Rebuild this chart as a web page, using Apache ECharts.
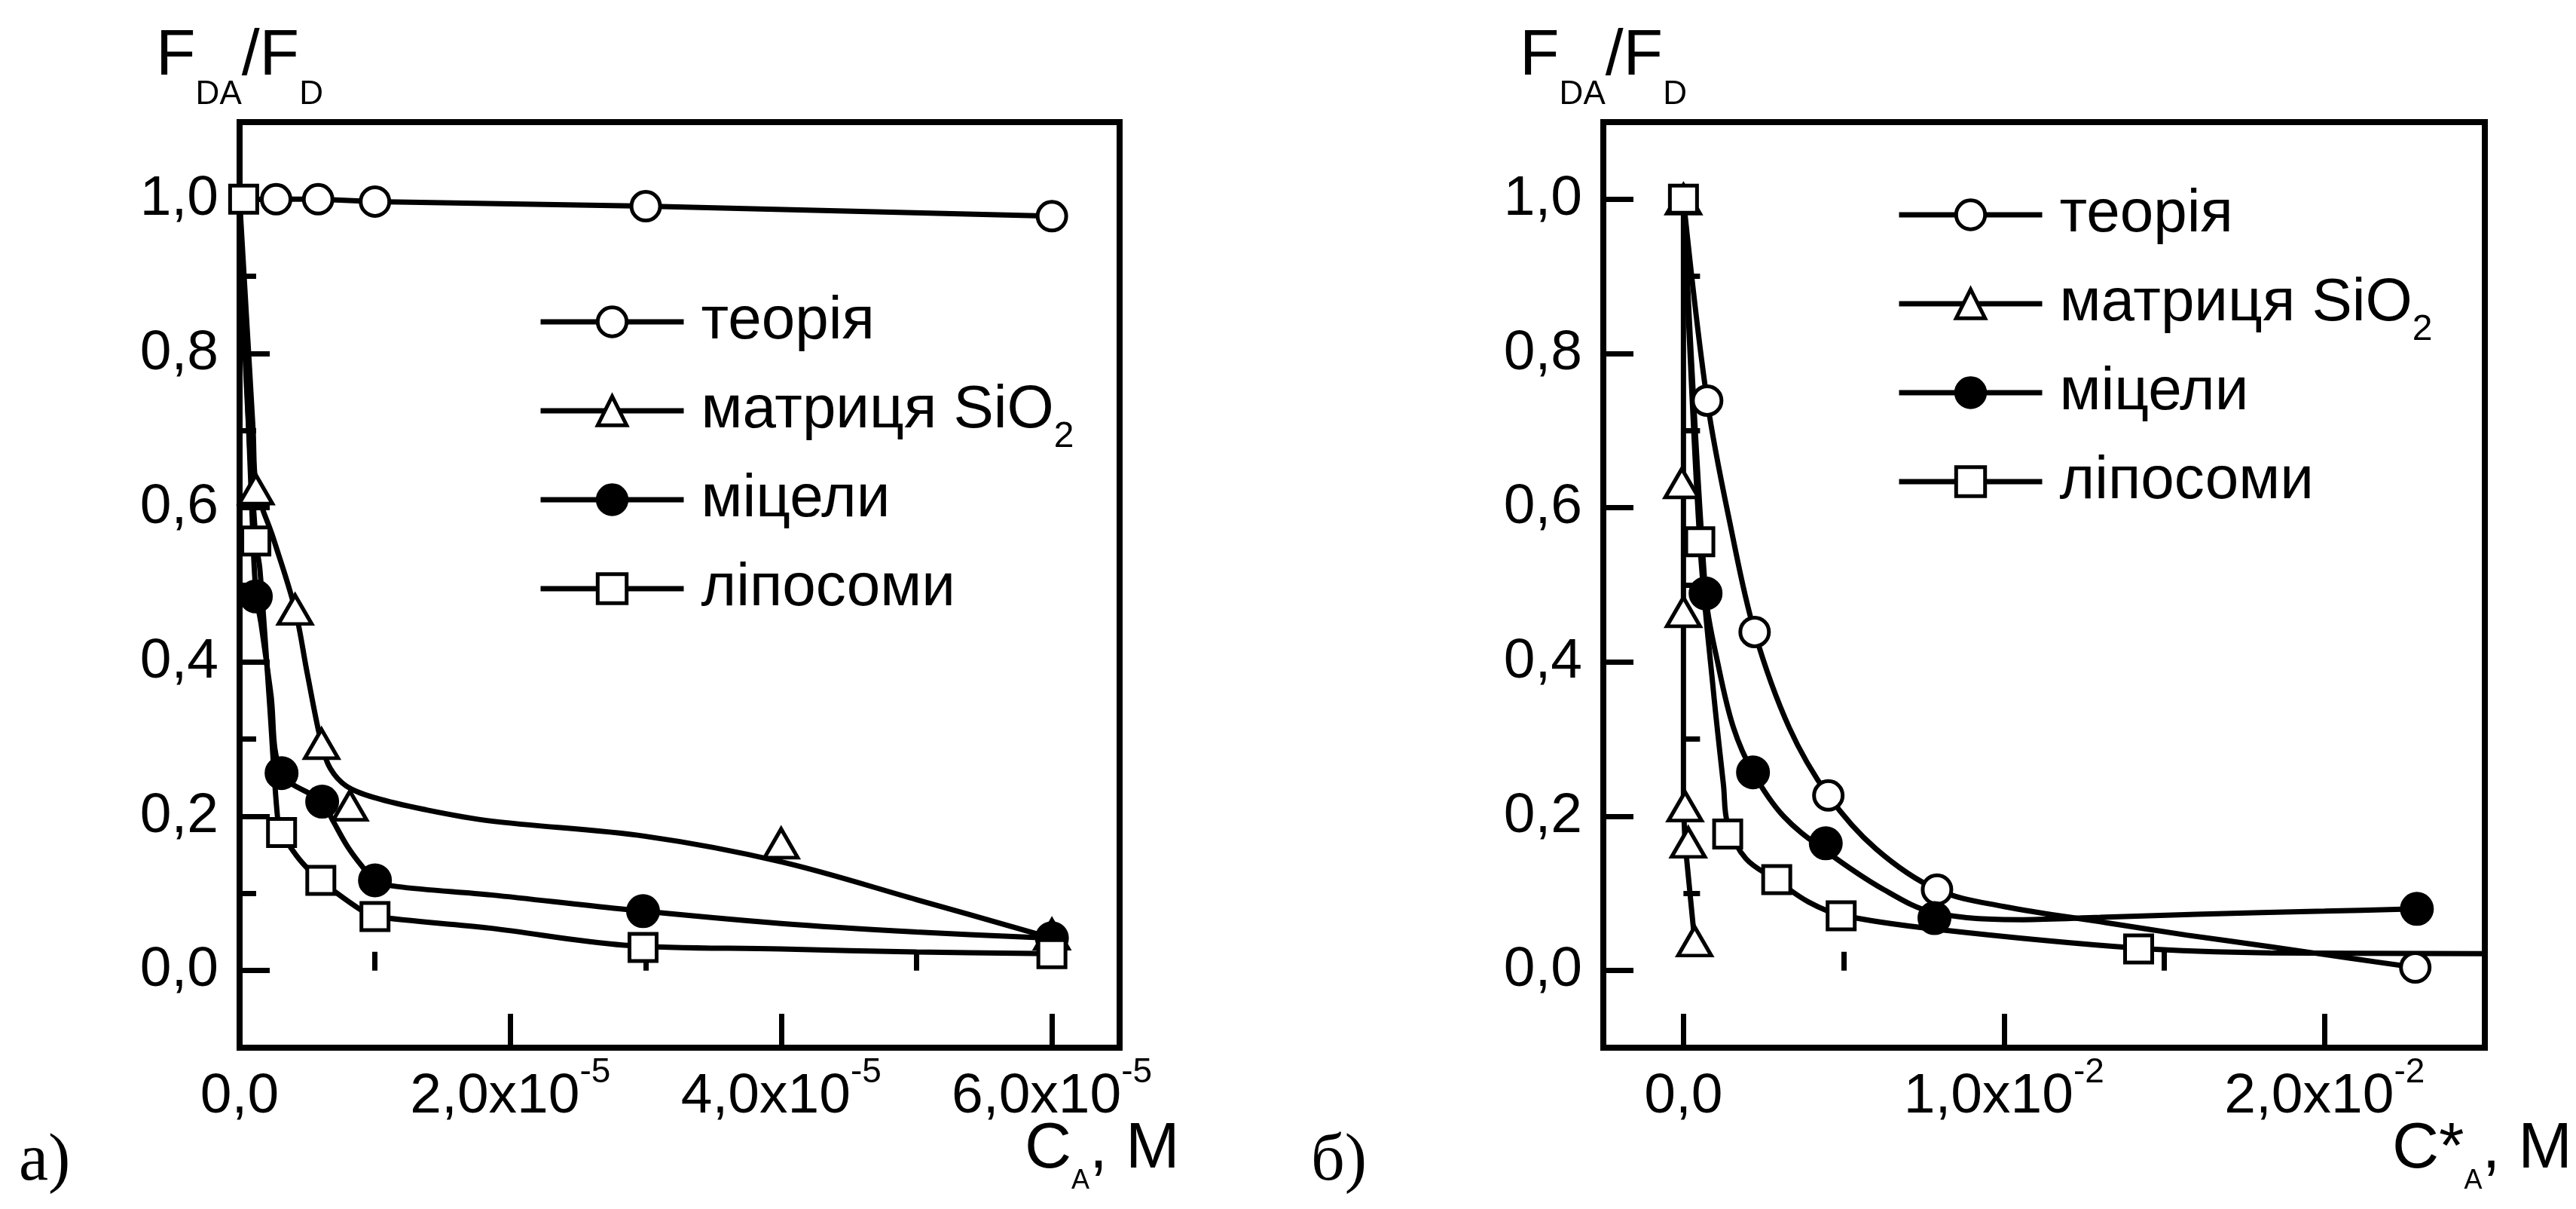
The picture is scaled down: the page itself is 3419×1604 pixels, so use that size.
<!DOCTYPE html>
<html><head><meta charset="utf-8">
<script src="https://cdn.jsdelivr.net/npm/echarts@6/dist/echarts.min.js"></script>
<style>html,body{margin:0;padding:0;background:#fff;} #c{width:3419px;height:1604px;}</style>
</head><body><div id="c"></div>
<script>
// ---------- DATA ----------
const seriesNames = ['теорія', 'матриця SiO2', 'міцели', 'ліпосоми'];

// Panel а): x in units of 1e-5 M
const aXMajor = [0, 2, 4, 6];
const aXMinor = [1, 3, 5];
const aTheoryX = [0.27, 0.58, 1.0, 3.0, 6.0];
const aTheoryY = [1.0, 1.0, 0.997, 0.991, 0.978];
const aSiO2X = [0.12, 0.41, 0.605, 0.815, 4.0, 6.0];
const aSiO2Y = [0.624, 0.468, 0.294, 0.214, 0.165, 0.047];
const aMicX = [0.12, 0.31, 0.61, 1.0, 2.98, 6.0];
const aMicY = [0.485, 0.256, 0.219, 0.117, 0.077, 0.042];
const aLipX = [0.03, 0.12, 0.31, 0.6, 1.0, 2.98, 6.0];
const aLipY = [1.0, 0.557, 0.179, 0.117, 0.07, 0.030, 0.022];
// fitted curves
const aSiO2FitX = [0, 0.05, 0.1, 0.12, 0.25, 0.41, 0.5, 0.605, 0.67, 0.79, 1.0, 1.36, 1.85, 3.0, 4.0, 5.0, 6.0];
const aSiO2FitY = [1.0, 0.85, 0.70, 0.63, 0.56, 0.468, 0.385, 0.294, 0.262, 0.239, 0.224, 0.209, 0.194, 0.174, 0.141, 0.092, 0.042];
const aMicFitX = [0, 0.05, 0.09, 0.12, 0.16, 0.23, 0.31, 0.61, 0.69, 0.8, 0.91, 1.0, 1.16, 1.86, 2.81, 4.0, 5.0, 6.0];
const aMicFitY = [1.0, 0.78, 0.6, 0.49, 0.448, 0.36, 0.256, 0.219, 0.194, 0.16, 0.134, 0.117, 0.109, 0.098, 0.08, 0.061, 0.05, 0.042];
const aLipFitX = [0, 0.05, 0.12, 0.15, 0.22, 0.28, 0.31, 0.42, 0.52, 0.6, 0.69, 0.91, 1.0, 1.85, 2.84, 4.0, 5.0, 6.0];
const aLipFitY = [1.0, 0.76, 0.557, 0.52, 0.35, 0.199, 0.179, 0.149, 0.129, 0.117, 0.104, 0.077, 0.07, 0.055, 0.033, 0.028, 0.024, 0.022];

// Panel б): x in units of 1e-2 M
const bXMajor = [0, 1, 2];
const bXMinor = [0.5, 1.5];
const bTheoryX = [0.074, 0.222, 0.452, 0.791, 2.283];
const bTheoryY = [0.739, 0.439, 0.227, 0.105, 0.004];
const bSiO2X = [0, -0.005, 0, 0.005, 0.015, 0.035];
const bSiO2Y = [1.0, 0.632, 0.465, 0.213, 0.166, 0.038];
const bMicX = [0.069, 0.217, 0.444, 0.783, 2.288];
const bMicY = [0.489, 0.257, 0.165, 0.068, 0.08];
const bLipX = [0, 0.051, 0.138, 0.291, 0.492, 1.42];
const bLipY = [1.0, 0.556, 0.177, 0.118, 0.071, 0.028];
const bTheoryFitX = [0, 0.074, 0.15, 0.222, 0.33, 0.452, 0.6, 0.791, 1.0, 1.32, 1.57, 1.83, 2.08, 2.283];
const bTheoryFitY = [1.0, 0.739, 0.57, 0.439, 0.315, 0.227, 0.158, 0.105, 0.083, 0.062, 0.046, 0.031, 0.016, 0.004];
const bSiO2FitX = [0, 0, 0, 0, 0.005, 0.035];
const bSiO2FitY = [1.0, 0.636, 0.465, 0.213, 0.166, 0.038];
const bMicFitX = [0, 0.069, 0.109, 0.156, 0.217, 0.3125, 0.444, 0.625, 0.783, 1.06, 1.3, 1.6, 2.0, 2.288];
const bMicFitY = [1.0, 0.489, 0.395, 0.315, 0.257, 0.20, 0.155, 0.105, 0.075, 0.066, 0.069, 0.073, 0.077, 0.08];
const bLipFitX = [0, 0.051, 0.094, 0.125, 0.138, 0.195, 0.291, 0.39, 0.492, 0.78, 1.42, 1.83, 2.5];
const bLipFitY = [1.0, 0.556, 0.36, 0.24, 0.19, 0.145, 0.117, 0.089, 0.072, 0.054, 0.029, 0.023, 0.022];

const yMajor = [0, 0.2, 0.4, 0.6, 0.8, 1.0];
const yMinor = [0.1, 0.3, 0.5, 0.7, 0.9];

// ---------- STYLE ----------
const FONT = '"Liberation Sans", Arial, Helvetica, sans-serif';
const SERIF = '"Liberation Serif", "Times New Roman", serif';
const BLACK = '#000';
const LINE_W = 7;
const fmt = v => v.toFixed(1).replace('.', ',');
const pairs = (xs, ys) => xs.map((x, i) => [x, ys[i]]);

function xAxes(g, min, max, majors, minors, exp, nameRich, nameGap) {
  return [{
    type: 'value', gridIndex: g, min: min, max: max, position: 'bottom',
    axisLine: { show: true, onZero: false, lineStyle: { color: BLACK, width: 8 } },
    axisTick: { show: true, inside: true, length: 45, lineStyle: { color: BLACK, width: 7 }, customValues: majors },
    axisLabel: {
      show: true, customValues: majors, margin: 10,
      formatter: v => Math.abs(v) < 1e-9 ? '{m|0,0}' : '{m|' + fmt(v) + 'x10}{s|' + exp + '}',
      rich: {
        m: { fontSize: 75, fontFamily: FONT, color: BLACK, lineHeight: 110 },
        s: { fontSize: 46, fontFamily: FONT, color: BLACK, lineHeight: 46, verticalAlign: 'top' }
      }
    },
    splitLine: { show: false },
    name: nameRich, nameLocation: 'end', nameGap: nameGap, nameMoveOverlap: false,
    nameTextStyle: {
      align: 'left', verticalAlign: 'top', padding: [75, 0, 0, 0],
      rich: {
        m: { fontSize: 86, fontFamily: FONT, color: BLACK, lineHeight: 120 },
        s: { fontSize: 36, fontFamily: FONT, color: BLACK, lineHeight: 30, verticalAlign: 'bottom' }
      }
    }
  }, {
    type: 'value', gridIndex: g, min: min, max: max, position: 'bottom',
    axisLine: { show: false },
    axisTick: { show: true, inside: true, length: 25, lineStyle: { color: BLACK, width: 7 }, customValues: minors },
    axisLabel: { show: false }, splitLine: { show: false }
  }];
}

function yAxes(g) {
  return [{
    type: 'value', gridIndex: g, min: -0.1, max: 1.1, position: 'left',
    axisLine: { show: true, onZero: false, lineStyle: { color: BLACK, width: 8 } },
    axisTick: { show: true, inside: true, length: 40, lineStyle: { color: BLACK, width: 7 }, customValues: yMajor },
    axisLabel: { show: true, customValues: yMajor, margin: 28, formatter: v => fmt(v),
      fontSize: 75, fontFamily: FONT, color: BLACK },
    splitLine: { show: false },
    name: '{m|F}{s|DA}{m|/F}{s|D}', nameLocation: 'end', nameGap: 14, nameMoveOverlap: false,
    nameTextStyle: {
      align: 'center', verticalAlign: 'bottom',
      rich: {
        m: { fontSize: 86, fontFamily: FONT, color: BLACK, lineHeight: 146 },
        s: { fontSize: 44, fontFamily: FONT, color: BLACK, lineHeight: 44, verticalAlign: 'bottom' }
      }
    }
  }, {
    type: 'value', gridIndex: g, min: -0.1, max: 1.1, position: 'left',
    axisLine: { show: false },
    axisTick: { show: true, inside: true, length: 22, lineStyle: { color: BLACK, width: 7 }, customValues: yMinor },
    axisLabel: { show: false }, splitLine: { show: false }
  }];
}

const markerStyles = {
  'теорія': { symbol: 'circle', symbolSize: 38, color: '#fff' },
  'матриця SiO2': { symbol: 'triangle', symbolSize: [44, 38], color: '#fff' },
  'міцели': { symbol: 'circle', symbolSize: 40, color: BLACK },
  'ліпосоми': { symbol: 'rect', symbolSize: 36, color: '#fff' }
};

function markers(name, xi, yi, xs, ys) {
  const st = markerStyles[name];
  return {
    type: 'line', name: name, xAxisIndex: xi, yAxisIndex: yi,
    data: pairs(xs, ys), showSymbol: true, symbol: st.symbol, symbolSize: st.symbolSize,
    lineStyle: { width: 0, opacity: 0 },
    itemStyle: { color: st.color, borderColor: BLACK, borderWidth: 5 },
    z: 5, silent: true
  };
}
function fit(id, xi, yi, xs, ys, smooth) {
  return {
    type: 'line', name: id, xAxisIndex: xi, yAxisIndex: yi,
    data: pairs(xs, ys), showSymbol: false, symbol: 'none',
    smooth: smooth,
    lineStyle: { color: BLACK, width: LINE_W }, z: 3, silent: true
  };
}

function legend(left, top) {
  return {
    data: seriesNames, orient: 'vertical', left: left, top: top, padding: 0,
    itemWidth: 190, itemHeight: 48, itemGap: 0, selectedMode: false,
    formatter: n => n === 'матриця SiO2' ? '{m|матриця SiO}{s|2}' : '{m|' + n + '}',
    textStyle: {
      fontFamily: FONT, fontSize: 80, color: BLACK, lineHeight: 118, padding: [0, 0, 0, 18],
      rich: {
        m: { fontSize: 80, fontFamily: FONT, color: BLACK, lineHeight: 118 },
        s: { fontSize: 48, fontFamily: FONT, color: BLACK, lineHeight: 20, verticalAlign: 'bottom' }
      }
    },
    lineStyle: { width: LINE_W, color: BLACK, opacity: 1 },
    itemStyle: { borderColor: BLACK, borderWidth: 5 }
  };
}

const option = {
  animation: false,
  backgroundColor: '#fff',
  grid: [
    { left: 318, top: 162, width: 1168, height: 1228, show: true, borderColor: BLACK, borderWidth: 8, backgroundColor: 'transparent' },
    { left: 2128, top: 162, width: 1170, height: 1228, show: true, borderColor: BLACK, borderWidth: 8, backgroundColor: 'transparent' }
  ],
  xAxis: [].concat(
    xAxes(0, 0, 6.5, aXMajor, aXMinor, '-5', '{m|C}{s|A}{m|, M}', -126),
    xAxes(1, -0.25, 2.5, bXMajor, bXMinor, '-2', '{m|C*}{s|A}{m|, M}', -123)
  ),
  yAxis: [].concat(yAxes(0), yAxes(1)),
  legend: [legend(714, 368), legend(2517, 226)],
  graphic: [
    { type: 'text', left: 25, top: 1498, style: { text: 'а)', font: 'normal 88px ' + SERIF, fill: BLACK } },
    { type: 'text', left: 1740, top: 1498, style: { text: 'б)', font: 'normal 88px ' + SERIF, fill: BLACK } }
  ],
  series: [
    // panel а
    fit('fit-a-theory', 0, 0, aTheoryX, aTheoryY, false),
    fit('fit-a-sio2', 0, 0, aSiO2FitX, aSiO2FitY, 0.35),
    fit('fit-a-mic', 0, 0, aMicFitX, aMicFitY, 0.35),
    fit('fit-a-lip', 0, 0, aLipFitX, aLipFitY, 0.35),
    markers('теорія', 0, 0, aTheoryX, aTheoryY),
    markers('матриця SiO2', 0, 0, aSiO2X, aSiO2Y),
    markers('міцели', 0, 0, aMicX, aMicY),
    markers('ліпосоми', 0, 0, aLipX, aLipY),
    // panel б
    fit('fit-b-theory', 2, 2, bTheoryFitX, bTheoryFitY, 0.35),
    fit('fit-b-sio2', 2, 2, bSiO2FitX, bSiO2FitY, false),
    fit('fit-b-mic', 2, 2, bMicFitX, bMicFitY, 0.35),
    fit('fit-b-lip', 2, 2, bLipFitX, bLipFitY, 0.35),
    markers('теорія', 2, 2, bTheoryX, bTheoryY),
    markers('матриця SiO2', 2, 2, bSiO2X, bSiO2Y),
    markers('міцели', 2, 2, bMicX, bMicY),
    markers('ліпосоми', 2, 2, bLipX, bLipY)
  ]
};

const chart = echarts.init(document.getElementById('c'), null, { renderer: 'canvas' });
chart.setOption(option);
</script>
</body></html>
